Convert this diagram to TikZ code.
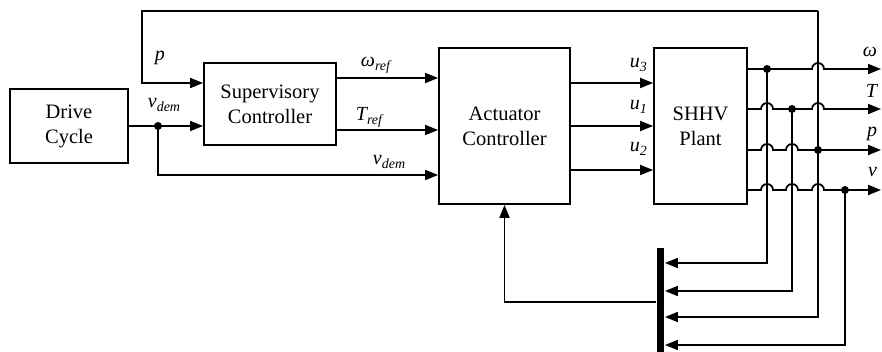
\documentclass[tikz,border=0pt]{standalone}
\usepackage{fontspec}
\setmainfont{Liberation Serif}
\usetikzlibrary{arrows.meta}

\begin{document}
\begin{tikzpicture}[x=1pt,y=-1pt,line width=1.8pt,
  block/.style={draw,rectangle,inner sep=0,align=center,font=\fontsize{20.5}{25}\selectfont},
  sig/.style={-{Triangle[length=13pt,width=10pt]}},
  lab/.style={inner sep=0,font=\fontsize{20}{24}\selectfont\itshape},
  junction/.style={circle,fill,inner sep=0,minimum size=8pt}]
\useasboundingbox (0,0) rectangle (882,352);
\node[block,minimum width=118,minimum height=74] (drive) at (69,126) {Drive\\Cycle};
\node[block,minimum width=132,minimum height=82] (super) at (270,104) {Supervisory\\Controller};
\node[block,minimum width=131,minimum height=156] (act) at (504.5,126) {Actuator\\Controller};
\node[block,minimum width=93,minimum height=156] (plant) at (700.5,126) {SHHV\\Plant};
\node[fill,inner sep=0,minimum width=7,minimum height=103] (bus) at (660.5,300) {};
\coordinate (vsplit) at (158,126);
\coordinate (ptop) at (818,11);
\coordinate (pin) at (142,83);
\coordinate (wtap) at (767,69);
\coordinate (ttap) at (792,109);
\coordinate (ptap) at (818,150);
\coordinate (vtap) at (845,190);
\coordinate (wout) at (881,69);
\coordinate (tout) at (881,109);
\coordinate (pout) at (881,150);
\coordinate (vout) at (881,190);
\draw[sig] (drive.east |- vsplit) -- (super.west |- vsplit);
\draw[sig] (vsplit) |- (act.west |- 0,175);
\draw[sig] (ptop) -| (pin) -- (super.west |- pin);
\draw[sig] (super.east |- 0,78) -- (act.west |- 0,78);
\draw[sig] (super.east |- 0,130) -- (act.west |- 0,130);
\draw[sig] (act.east |- 0,83) -- (plant.west |- 0,83);
\draw[sig] (act.east) -- (plant.west);
\draw[sig] (act.east |- 0,170) -- (plant.west |- 0,170);
\draw[sig] (plant.east |- wtap) -- (812,69) arc[start angle=180,end angle=360,radius=6] -- (wout);
\draw[sig] (plant.east |- ttap) -- (761,109) arc[start angle=180,end angle=360,radius=6] -- (812,109) arc[start angle=180,end angle=360,radius=6] -- (tout);
\draw[sig] (plant.east |- ptap) -- (761,150) arc[start angle=180,end angle=360,radius=6] -- (786,150) arc[start angle=180,end angle=360,radius=6] -- (pout);
\draw[sig] (plant.east |- vtap) -- (761,190) arc[start angle=180,end angle=360,radius=6] -- (786,190) arc[start angle=180,end angle=360,radius=6] -- (812,190) arc[start angle=180,end angle=360,radius=6] -- (vout);
\draw[sig] (wtap) |- (bus.east |- 0,263);
\draw[sig] (ttap) |- (bus.east |- 0,291);
\draw[sig] (ptop) |- (bus.east |- 0,317);
\draw[sig] (vtap) |- (bus.east |- 0,345);
\draw[sig] (bus.west |- 0,302) -| (act.south);
\node[junction] (j0) at (vsplit) {};
\node[junction] (j1) at (wtap) {};
\node[junction] (j2) at (ttap) {};
\node[junction] (j3) at (ptap) {};
\node[junction] (j4) at (vtap) {};
\node[lab,anchor=base west] (lp) at (154,61) {p};
\node[lab,anchor=base west] (lvd) at (147,108) {v\textsubscript{dem}};
\node[lab,anchor=base west] (lwr) at (360,67) {ω\textsubscript{ref}};
\node[lab,anchor=base west] (ltr) at (355,121) {T\textsubscript{ref}};
\node[lab,anchor=base west] (lvd2) at (372,165) {v\textsubscript{dem}};
\node[lab,anchor=base west] (lu3) at (629,68) {u\textsubscript{3}};
\node[lab,anchor=base west] (lu1) at (629,110) {u\textsubscript{1}};
\node[lab,anchor=base west] (lu2) at (629,152) {u\textsubscript{2}};
\node[lab,anchor=base east] (lw) at (878,57) {ω};
\node[lab,anchor=base east] (lt) at (878,98) {T};
\node[lab,anchor=base east] (lpo) at (878,137) {p};
\node[lab,anchor=base east] (lv) at (878,177) {v};
\end{tikzpicture}
\end{document}
